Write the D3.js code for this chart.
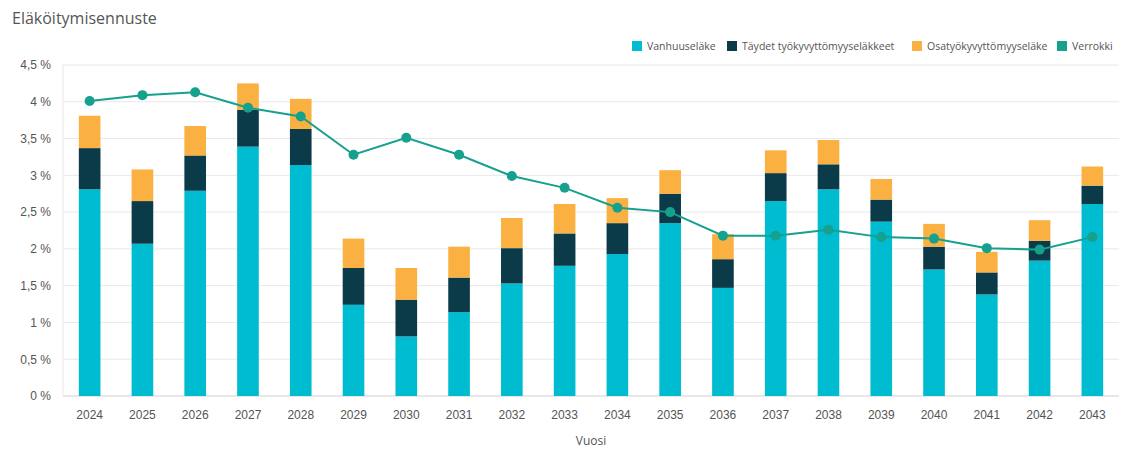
<!DOCTYPE html>
<html>
<head>
<meta charset="utf-8">
<script src="https://cdn.jsdelivr.net/npm/d3@7"></script>
<style>
  body { margin: 0; background: #fff; }
  svg { display: block; font-family: "Open Sans", "DejaVu Sans", sans-serif; }
</style>
</head>
<body>
<div id="chart"></div>
<script>
// data (percent)
var years = ["2024","2025","2026","2027","2028","2029","2030","2031","2032","2033",
             "2034","2035","2036","2037","2038","2039","2040","2041","2042","2043"];
var vanhuus = [2.81, 2.07, 2.79, 3.39, 3.14, 1.24, 0.81, 1.14, 1.53, 1.77,
               1.93, 2.35, 1.47, 2.65, 2.81, 2.37, 1.72, 1.38, 1.84, 2.61];
var taydet  = [0.56, 0.58, 0.48, 0.50, 0.49, 0.50, 0.50, 0.47, 0.48, 0.44,
               0.42, 0.40, 0.39, 0.38, 0.34, 0.30, 0.31, 0.30, 0.27, 0.25];
var osa     = [0.44, 0.43, 0.40, 0.36, 0.41, 0.40, 0.43, 0.42, 0.41, 0.40,
               0.34, 0.32, 0.34, 0.31, 0.33, 0.28, 0.31, 0.28, 0.28, 0.26];
var verrokki = [4.01, 4.09, 4.13, 3.92, 3.80, 3.28, 3.51, 3.28, 2.99, 2.83,
                2.56, 2.50, 2.18, 2.18, 2.26, 2.16, 2.14, 2.01, 1.99, 2.16];
var yTicks = [0, 0.5, 1, 1.5, 2, 2.5, 3, 3.5, 4, 4.5];
var seriesNames = ["Vanhuuseläke", "Täydet työkyvyttömyyseläkkeet", "Osatyökyvyttömyyseläke", "Verrokki"];
var seriesColors = ["#00bcd1", "#0b3a49", "#fbb042", "#16a08e"];

var width = 1128, height = 456;
var margin = {top: 65, right: 9, bottom: 60, left: 63};

var svg = d3.select("#chart").append("svg")
  .attr("width", width)
  .attr("height", height);

svg.append("text")
  .attr("x", 12).attr("y", 24)
  .attr("fill", "#555")
  .style("font-size", "16px")
  .text("Eläköitymisennuste");

var x = d3.scaleBand()
  .domain(years)
  .range([margin.left, width - margin.right])
  .paddingInner(0.59)
  .paddingOuter(0.3);

var y = d3.scaleLinear()
  .domain([0, 4.5])
  .range([height - margin.bottom, margin.top]);

// grid
svg.append("g")
  .selectAll("line")
  .data(yTicks)
  .enter().append("line")
  .attr("x1", margin.left).attr("x2", width - margin.right)
  .attr("y1", function(d) { return y(d); })
  .attr("y2", function(d) { return y(d); })
  .attr("stroke", function(d) { return d === 0 ? "#d0d0d0" : "#e8e8e8"; })
  .attr("stroke-width", 1);

svg.append("line")
  .attr("x1", margin.left).attr("x2", margin.left)
  .attr("y1", margin.top).attr("y2", y(0))
  .attr("stroke", "#e8e8e8");

// y axis labels
var yAxis = d3.axisLeft(y)
  .tickValues(yTicks)
  .tickSize(0)
  .tickPadding(12)
  .tickFormat(function(d) { return String(d).replace(".", ",") + " %"; });
var gy = svg.append("g")
  .attr("transform", "translate(" + margin.left + ",0)")
  .call(yAxis);
gy.select(".domain").remove();
gy.selectAll("text").attr("fill", "#555").style("font-size", "12px");

// x axis
var xAxis = d3.axisBottom(x).tickSize(0).tickPadding(14);
var gx = svg.append("g")
  .attr("transform", "translate(0," + y(0) + ")")
  .call(xAxis);
gx.select(".domain").remove();
gx.selectAll("text").attr("fill", "#555").style("font-size", "12px");

svg.append("text")
  .attr("x", (margin.left + width - margin.right) / 2)
  .attr("y", 445)
  .attr("text-anchor", "middle")
  .attr("fill", "#555")
  .style("font-size", "12px")
  .text("Vuosi");

// stacked bars
var rows = years.map(function(yr, i) {
  return {year: yr, v: vanhuus[i], t: taydet[i], o: osa[i]};
});
var stack = d3.stack().keys(["v", "t", "o"]);
var layers = stack(rows);

svg.append("g")
  .selectAll("g")
  .data(layers)
  .enter().append("g")
  .attr("fill", function(d, i) { return seriesColors[i]; })
  .selectAll("rect")
  .data(function(d) { return d; })
  .enter().append("rect")
  .attr("x", function(d) { return x(d.data.year); })
  .attr("width", x.bandwidth())
  .attr("y", function(d) { return y(d[1]); })
  .attr("height", function(d) { return y(d[0]) - y(d[1]); });

// comparison line
var line = d3.line()
  .x(function(d, i) { return x(years[i]) + x.bandwidth() / 2; })
  .y(function(d) { return y(d); });

svg.append("path")
  .datum(verrokki)
  .attr("d", line)
  .attr("fill", "none")
  .attr("stroke", seriesColors[3])
  .attr("stroke-width", 2);

svg.append("g")
  .selectAll("circle")
  .data(verrokki)
  .enter().append("circle")
  .attr("cx", function(d, i) { return x(years[i]) + x.bandwidth() / 2; })
  .attr("cy", function(d) { return y(d); })
  .attr("r", 5)
  .attr("fill", seriesColors[3]);

// legend
var legendX = [632, 727, 912, 1057];
var legend = svg.append("g")
  .selectAll("g")
  .data(seriesNames)
  .enter().append("g")
  .attr("transform", function(d, i) { return "translate(" + legendX[i] + ",41)"; });
legend.append("rect")
  .attr("width", 10).attr("height", 10)
  .attr("fill", function(d, i) { return seriesColors[i]; });
legend.append("text")
  .attr("x", 15).attr("y", 9)
  .attr("fill", "#555")
  .style("font-size", "10.5px")
  .text(function(d) { return d; });
</script>
</body>
</html>
